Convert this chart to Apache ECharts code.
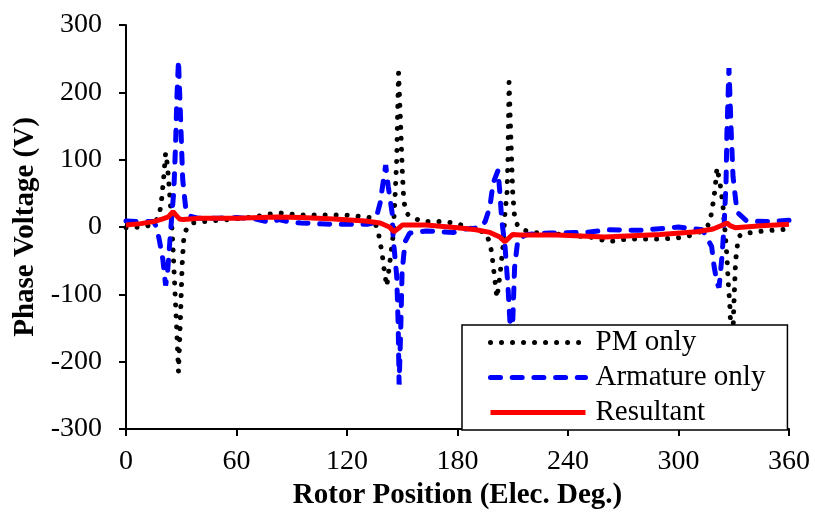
<!DOCTYPE html>
<html>
<head>
<meta charset="utf-8">
<script src="https://cdn.jsdelivr.net/npm/echarts@6/dist/echarts.min.js"></script>
<style>
  html, body { margin: 0; padding: 0; background: #fff; }
  #chart { width: 815px; height: 515px; }
</style>
</head>
<body>
<div id="chart"></div>
<script>
// Phase voltage vs. rotor position (electrical degrees)
const xTicks = [0, 60, 120, 180, 240, 300, 360];
const yTicks = [-300, -200, -100, 0, 100, 200, 300];

// PM only
const pmAngle = [0, 8, 14, 17, 18.5, 19.5, 20.5, 21.5, 22.5, 23.5, 24.5, 25.5, 26.5, 27.5, 28.5, 29.5, 30.5, 31.5, 33, 36,
  42, 55, 70, 77, 83, 93, 105, 118, 123, 132, 135, 137, 139, 140, 141.6, 143, 145, 146, 147, 147.5, 148, 149, 150, 150.8,
  152, 154, 161, 170, 179, 185, 195, 197.6, 198.7, 199.5, 201.4, 203, 204.7, 205.8, 206.9, 207.4, 208, 209, 210, 211,
  212, 215, 221, 240, 255, 261.5, 272, 290, 300, 308, 314, 317, 318.8, 319.8, 320.9, 322.5, 324, 325.2, 326.3, 327,
  328, 329, 330, 331, 332.5, 334.5, 346, 360];
const pmVolt = [-1, 0, 3, 12, 25, 45, 75, 110, 92, 58, 18, -30, -90, -150, -215, -140, -55, -12, -2, 6,
  8, 11, 15, 19, 21, 18, 18, 18, 17, 14, 8, -8, -38, -60, -88, -58, -14, 40, 100, 170, 229, 160, 85, 40,
  22, 16, 8, 8, 6, 0, -8, -23, -41, -60, -105, -73, -29, 21, 51, 100, 215, 130, 50, 15,
  5, -4, -8, -12, -16, -22, -18, -18, -16, -12, -4, 6, 36, 55, 88, 66, 36, -4, -44, -82,
  -122, -212, -120, -50, -15, -10, -6, -3];

// Armature only
const armAngle = [0, 8, 15, 16.5, 18, 20, 21.5, 22.5, 23.2, 24.4, 26, 27, 27.6, 28.5, 29.8, 30.8, 32.5, 35, 39, 50,
  60, 70, 78, 83, 88, 95, 112, 131, 134, 136, 138, 139.6, 141, 142.4, 144.5, 145, 147, 147.8, 148.3, 149.2, 149.9,
  151.5, 154, 163, 178, 181, 192, 195, 197.6, 199.3, 202, 203, 204, 205.8, 207.4, 208.5, 209.2, 210, 211, 212.8,
  217.7, 230, 250, 262, 280, 300, 313, 318, 319.3, 320.9, 322, 323.6, 324.7, 325.8, 326.3, 327.4, 328.5, 329.6,
  331.8, 337, 351, 360];
const armVolt = [9, 8, 8, 0, -18, -48, -87, -70, -44, 0, 55, 130, 190, 248, 148, 70, 26, 16, 13, 13,
  14, 12, 7, 11, 8, 6, 4, 4, 6, 15, 36, 66, 92, 60, 21, -14, -73, -147, -234, -150, -68,
  -22, -9, -6, -8, -4, -1, 8, 30, 65, 84, 51, 11, -29, -88, -142, -228, -140, -60, -18,
  -11, -9, -8, -4, -5, 0, -4, -29, -58, -83, -90, -44, 0, 65, 140, 236, 150, 75,
  22, 9, 8, 10];

// Resultant
const resAngle = [0, 8, 15, 20, 23, 25.5, 27, 29, 31, 40, 60, 82, 95, 113, 130, 138, 143, 145.5, 148, 150, 163, 180,
  190, 197.6, 203, 205.8, 208, 210, 214, 234, 260, 290, 310, 318.8, 324, 326.3, 328, 330.7, 345, 360];
const resVolt = [3, 5, 8, 12, 15, 23, 18, 12, 11, 13, 13, 15, 14, 12, 9, 6, 0, -7, -2, 3, 3, -1,
  -4, -8, -15, -22, -16, -11, -12, -12, -15, -11, -7, -3, 3, 6, 2, -1, 2, 4];

const pair = (xs, ys) => xs.map((x, i) => [x, ys[i]]);

const FONT = '"Liberation Serif", "Times New Roman", serif';

const chart = echarts.init(document.getElementById('chart'), null, { renderer: 'canvas' });

const axisCommon = {
  axisLine: { show: true, onZero: false, lineStyle: { color: '#000', width: 2 } },
  axisTick: { show: true, inside: false, length: 7, lineStyle: { color: '#000', width: 2 } },
  splitLine: { show: false },
  axisLabel: { color: '#000', fontFamily: FONT, fontSize: 28 }
};

chart.setOption({
  animation: false,
  backgroundColor: '#fff',
  grid: { left: 126, right: 26, top: 25, bottom: 85, containLabel: false },
  xAxis: Object.assign({}, axisCommon, {
    type: 'value',
    min: xTicks[0],
    max: xTicks[xTicks.length - 1],
    interval: xTicks[1] - xTicks[0],
    name: 'Rotor Position (Elec. Deg.)',
    nameLocation: 'middle',
    nameGap: 52,
    nameTextStyle: { color: '#000', fontFamily: FONT, fontSize: 29, fontWeight: 'bold' },
    axisLabel: Object.assign({}, axisCommon.axisLabel, { margin: 19 })
  }),
  yAxis: Object.assign({}, axisCommon, {
    type: 'value',
    min: yTicks[0],
    max: yTicks[yTicks.length - 1],
    interval: yTicks[1] - yTicks[0],
    name: 'Phase Voltage (V)',
    nameLocation: 'middle',
    nameRotate: 90,
    nameGap: 86,
    nameTextStyle: { color: '#000', fontFamily: FONT, fontSize: 29, fontWeight: 'bold' },
    axisLabel: Object.assign({}, axisCommon.axisLabel, { margin: 24 })
  }),
  legend: {
    orient: 'vertical',
    left: 462,
    top: 325,
    padding: [3, 22, 3, 26],
    itemGap: 6,
    itemWidth: 95,
    itemHeight: 20,
    borderColor: '#000',
    borderWidth: 1.5,
    borderRadius: 0,
    backgroundColor: '#fff',
    itemStyle: { opacity: 0 },
    lineStyle: { width: 'inherit', type: 'inherit', cap: 'inherit' },
    textStyle: { color: '#000', fontFamily: FONT, fontSize: 29, padding: [0, 0, 0, 5] },
    data: ['PM only', 'Armature only', 'Resultant']
  },
  series: [
    {
      name: 'PM only',
      type: 'line',
      data: pair(pmAngle, pmVolt),
      showSymbol: false,
      symbol: 'none',
      color: '#000',
      lineStyle: { color: '#000', width: 5, type: [0.01, 11], cap: 'round' },
      z: 2
    },
    {
      name: 'Armature only',
      type: 'line',
      data: pair(armAngle, armVolt),
      showSymbol: false,
      symbol: 'none',
      color: '#0000ff',
      lineStyle: { color: '#0000ff', width: 5, type: [10, 11.7], cap: 'round' },
      z: 3
    },
    {
      name: 'Resultant',
      type: 'line',
      data: pair(resAngle, resVolt),
      showSymbol: false,
      symbol: 'none',
      color: '#ff0000',
      lineStyle: { color: '#ff0000', width: 5 },
      z: 4
    }
  ]
});
</script>
</body>
</html>
